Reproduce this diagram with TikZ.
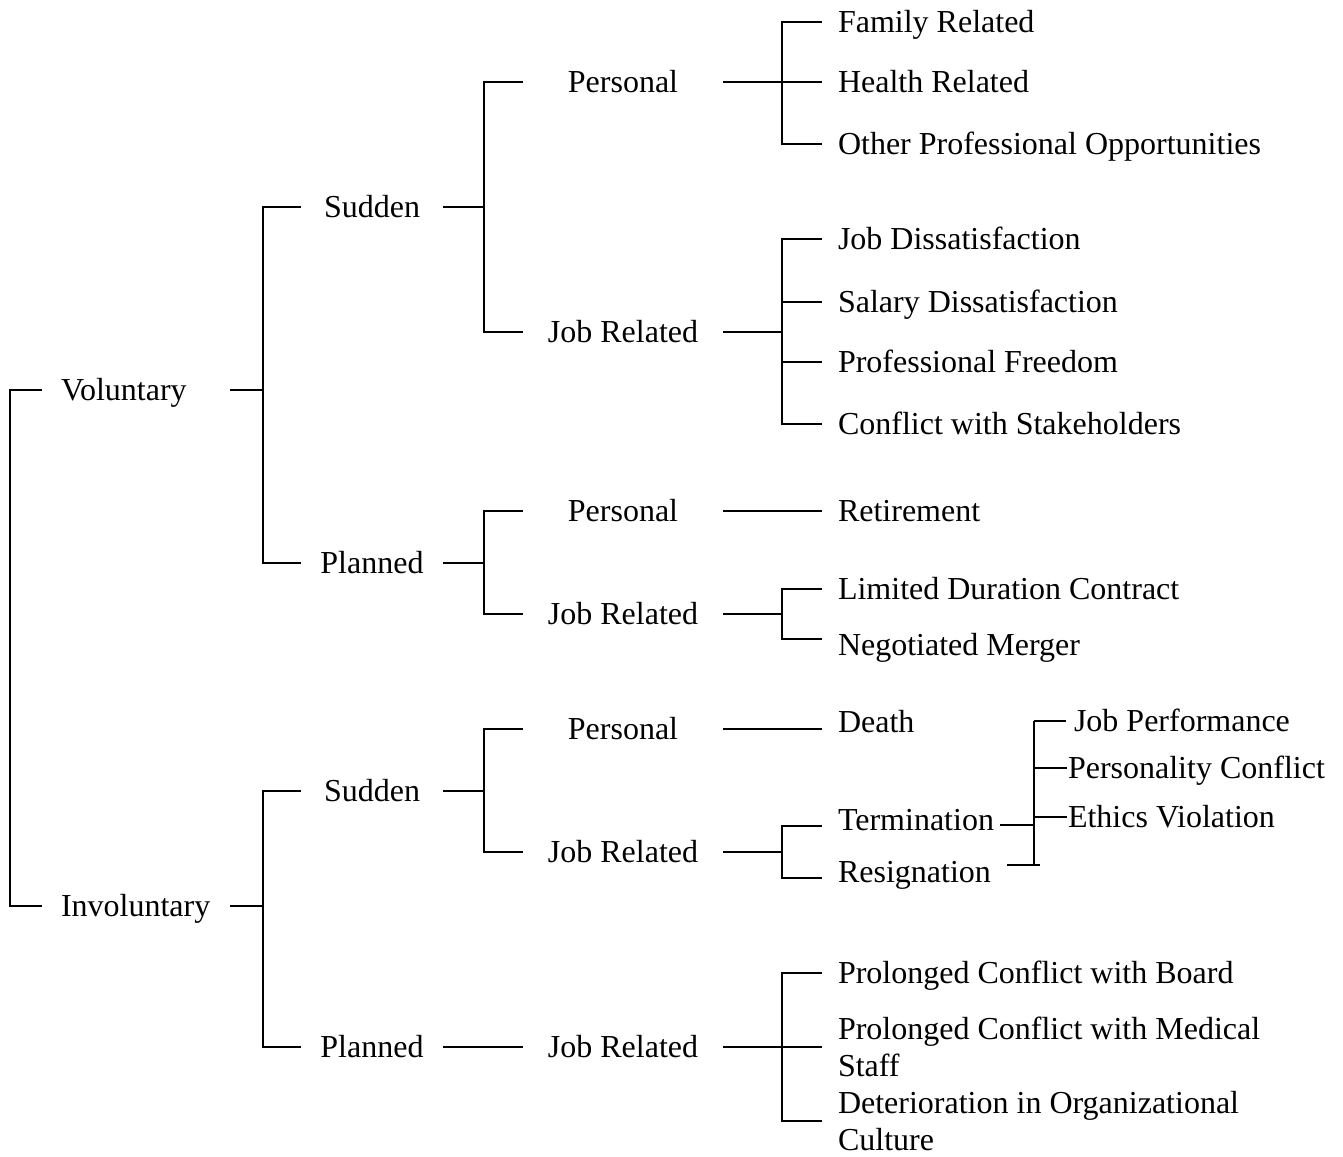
\documentclass[tikz,border=0pt]{standalone}
\usepackage{fontspec}
\setmainfont{Liberation Serif}
\begin{document}
\begin{tikzpicture}[x=0.5pt,y=-0.5pt, line width=1pt,
  every node/.style={font=\fontsize{16}{18.5}\selectfont, inner sep=0pt},
  one/.style={text height=10.6pt, text depth=0pt},
  lvlA/.style={one, anchor=west, inner xsep=9pt, text width=75pt, align=left},
  lvlB/.style={one, minimum width=70pt, align=center},
  lvlC/.style={one, minimum width=99pt, align=center},
  leaf/.style={one, anchor=west, inner xsep=7.5pt},
  leafm/.style={anchor=west, inner xsep=7.5pt, align=left},
  sub/.style={one, anchor=west, inner xsep=0pt}]
\useasboundingbox (0,0) rectangle (1343,1156);

% level 0
\node[lvlA] (vol) at (42,390) {Voluntary};
\node[lvlA] (inv) at (42,906) {Involuntary};
% level 1
\node[lvlB] (s1) at (372,207) {Sudden};
\node[lvlB] (p1) at (372,563) {Planned};
\node[lvlB] (s2) at (372,791) {Sudden};
\node[lvlB] (p2) at (372,1047) {Planned};
% level 2
\node[lvlC] (s1p) at (623,82) {Personal};
\node[lvlC] (s1j) at (623,332) {Job Related};
\node[lvlC] (p1p) at (623,511) {Personal};
\node[lvlC] (p1j) at (623,614) {Job Related};
\node[lvlC] (s2p) at (623,729) {Personal};
\node[lvlC] (s2j) at (623,852) {Job Related};
\node[lvlC] (p2j) at (623,1047) {Job Related};
% leaves
\node[leaf] (lfam) at (822,22) {Family Related};
\node[leaf] (lhea) at (822,82) {Health Related};
\node[leaf] (loth) at (822,144) {Other Professional Opportunities};
\node[leaf] (ljd) at (822,239) {Job Dissatisfaction};
\node[leaf] (lsd) at (822,302) {Salary Dissatisfaction};
\node[leaf] (lpf) at (822,362) {Professional Freedom};
\node[leaf] (lcs) at (822,424) {Conflict with Stakeholders};
\node[leaf] (lret) at (822,511) {Retirement};
\node[leaf] (lldc) at (822,589) {Limited Duration Contract};
\node[leaf] (lnm) at (822,645) {Negotiated Merger};
\node[leaf] (ldea) at (822,722) {Death};
\node[leaf] (lter) at (822,820) {Termination};
\node[leaf] (lres) at (822,872) {Resignation};
\node[leaf] (lpcb) at (822,973) {Prolonged Conflict with Board};
\node[leafm] (lpcm) at (822,1047) {Prolonged Conflict with Medical\\Staff};
\node[leafm] (ldet) at (822,1121) {Deterioration in Organizational\\Culture};
% termination sub-branch
\node[sub] (ljpf) at (1073,721) {Job Performance};
\node[sub] (lpcf) at (1067,768) {Personality Conflict};
\node[sub] (levi) at (1067,817) {Ethics Violation};

% junctions
\coordinate (r) at (10,648);
\coordinate (jv) at (263,390);
\coordinate (ji) at (263,906);
\coordinate (js1) at (484,207);
\coordinate (jp1) at (484,563);
\coordinate (js2) at (484,791);
\coordinate (ja) at (782,82);
\coordinate (jb) at (782,332);
\coordinate (jc) at (782,614);
\coordinate (jd) at (782,852);
\coordinate (je) at (782,1047);
\coordinate (tspT) at (1034,721);
\coordinate (tspB) at (1034,865);
\coordinate (tA) at (1000,825);
\coordinate (rA) at (1007,865);
\coordinate (rB) at (1040,865);

% connectors
\draw (vol.west) -| (r) |- (inv.west);
\draw (vol.east) -- (jv);
\draw (s1.west) -| (jv) |- (p1.west);
\draw (inv.east) -- (ji);
\draw (s2.west) -| (ji) |- (p2.west);
\draw (s1.east) -- (js1);
\draw (s1p.west) -| (js1) |- (s1j.west);
\draw (p1.east) -- (jp1);
\draw (p1p.west) -| (jp1) |- (p1j.west);
\draw (s2.east) -- (js2);
\draw (s2p.west) -| (js2) |- (s2j.west);
\draw (p2.east) -- (p2j.west);

\draw (s1p.east) -- (ja);
\draw (lfam.west) -| (ja) |- (loth.west);
\draw (ja) -- (lhea.west);
\draw (s1j.east) -- (jb);
\draw (ljd.west) -| (jb) |- (lcs.west);
\draw (jb) |- (lsd.west);
\draw (jb) |- (lpf.west);
\draw (p1p.east) -- (lret.west);
\draw (p1j.east) -- (jc);
\draw (lldc.west) -| (jc) |- ([yshift=3pt]lnm.west);
\draw (s2p.east) -- (s2p.east -| ldea.west);
\draw (s2j.east) -- (jd);
\draw ([yshift=-3pt]lter.west) -| (jd) |- ([yshift=-3pt]lres.west);
\draw (p2j.east) -- (je);
\draw (lpcb.west) -| (je) |- (ldet.west);
\draw (je) -- (lpcm.west);

\draw (tA) -- (tA -| tspT);
\draw (tspT) -- (tspB);
\draw (tspT) -- ([xshift=-3.5pt]ljpf.west);
\draw (lpcf.west -| tspT) -- (lpcf.west);
\draw (levi.west -| tspT) -- (levi.west);
\draw (rA) -- (rB);
\end{tikzpicture}
\end{document}
